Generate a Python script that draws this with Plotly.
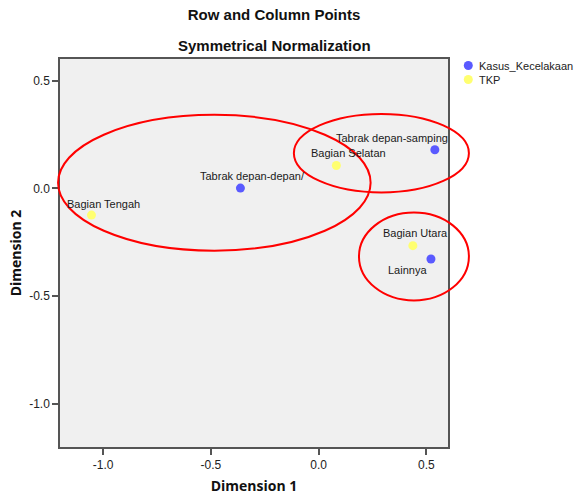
import plotly.graph_objects as go

# ---- data ----
row_labels = ["Tabrak depan-depan/", "Tabrak depan-samping", "Lainnya"]
row_dim1 = [-0.363, 0.539, 0.521]
row_dim2 = [0.001, 0.179, -0.328]

col_labels = ["Bagian Tengah", "Bagian Selatan", "Bagian Utara"]
col_dim1 = [-1.054, 0.082, 0.437]
col_dim2 = [-0.124, 0.106, -0.266]

series_names = ["Kasus_Kecelakaan", "TKP"]
tick_vals = [-1.0, -0.5, 0.0, 0.5]
tick_text = ["-1.0", "-0.5", "0.0", "0.5"]

# hand-drawn highlight ellipses (data units: cx, cy, rx, ry)
ellipses = [(-0.484, 0.026, 0.725, 0.315),
            (0.291, 0.163, 0.406, 0.182),
            (0.442, -0.316, 0.255, 0.204)]

# ---- styles ----
BLUE = "#5a5aff"
YELLOW = "#ffff70"
FONT = "Liberation Sans"
XR = [-1.2, 0.6]
YR = [-1.2, 0.6]
W, H = 575, 495
ML, MR, MT, MB = 60, 127, 59, 48
PW, PH = W - ML - MR, H - MT - MB
# label pixel offsets (style)
row_offsets = [(12, 12), (-43, 12), (-23, -11)]
col_offsets = [(12, 11), (12, 12), (3, 13)]


def pxx(p):  # page pixel x -> paper
    return (p - ML) / PW


def pxy(p):  # page pixel y -> paper
    return 1 - (p - MT) / PH


def frac(v, r):
    return (v - r[0]) / (r[1] - r[0])


fig = go.Figure()
fig.add_trace(go.Scatter(x=row_dim1, y=row_dim2, mode="markers", name=series_names[0],
                         marker=dict(color=BLUE, size=9, line=dict(width=0)),
                         cliponaxis=False, showlegend=False))
fig.add_trace(go.Scatter(x=col_dim1, y=col_dim2, mode="markers", name=series_names[1],
                         marker=dict(color=YELLOW, size=9, line=dict(width=0)),
                         cliponaxis=False, showlegend=False))

annotations = []
for labels, xs, ys, offs in [(row_labels, row_dim1, row_dim2, row_offsets),
                             (col_labels, col_dim1, col_dim2, col_offsets)]:
    for lab, x, y, (dx, dy) in zip(labels, xs, ys, offs):
        annotations.append(dict(x=x, y=y, xref="x", yref="y", text=lab, showarrow=False,
                                xshift=dx, yshift=dy, xanchor="center", yanchor="middle",
                                font=dict(family=FONT, size=11, color="#1a1a1a")))

annotations.append(dict(x=pxx(274), y=pxy(46), xref="paper", yref="paper",
                        text="Symmetrical Normalization", showarrow=False,
                        xanchor="center", yanchor="middle",
                        font=dict(family=FONT, size=15, color="#111", weight="bold")))

shapes = []
for cx, cy, rx, ry in ellipses:
    shapes.append(dict(type="circle", xref="paper", yref="paper",
                       x0=frac(cx - rx, XR), x1=frac(cx + rx, XR),
                       y0=frac(cy - ry, YR), y1=frac(cy + ry, YR),
                       line=dict(color="#ff0000", width=2), layer="above"))

# legend (drawn manually to match compact SPSS layout)
legend_rows = [(series_names[0], BLUE, 65.5), (series_names[1], YELLOW, 79.5)]
for name, col, py in legend_rows:
    shapes.append(dict(type="circle", xref="paper", yref="paper",
                       x0=pxx(468.3 - 4.5), x1=pxx(468.3 + 4.5),
                       y0=pxy(py + 4.5), y1=pxy(py - 4.5),
                       fillcolor=col, line=dict(width=0), layer="above"))
    annotations.append(dict(x=pxx(477), y=pxy(py), xref="paper", yref="paper",
                            text=name, showarrow=False, xanchor="left", yanchor="middle",
                            font=dict(family=FONT, size=11, color="#222")))

axis_common = dict(showgrid=False, zeroline=False, showline=True, mirror=True,
                   linecolor="#555555", linewidth=1.5, ticks="outside", ticklen=6,
                   tickcolor="#555555", tickwidth=1.5, tickvals=tick_vals, ticktext=tick_text,
                   tickfont=dict(family=FONT, size=12, color="#222"), automargin=False)

fig.update_layout(
    width=W, height=H,
    margin=dict(l=ML, r=MR, t=MT, b=MB),
    paper_bgcolor="white", plot_bgcolor="#f0f0f0",
    title=dict(text="Row and Column Points", x=274 / W, xanchor="center",
               y=1 - 15 / H, yanchor="middle", yref="container",
               font=dict(family=FONT, size=15, color="#111", weight="bold")),
    xaxis=dict(range=XR, title=dict(text="Dimension 1", standoff=18,
               font=dict(family="Open Sans", size=14, color="#111", weight="bold")),
               **axis_common),
    yaxis=dict(range=YR, title=dict(text="Dimension 2", standoff=4,
               font=dict(family="Open Sans", size=14, color="#111", weight="bold")),
               **axis_common),
    showlegend=False,
    annotations=annotations,
    shapes=shapes,
)

fig.write_html("out.html", config={"displayModeBar": False},
               post_script="document.body.style.margin='0';document.body.style.padding='0';")
